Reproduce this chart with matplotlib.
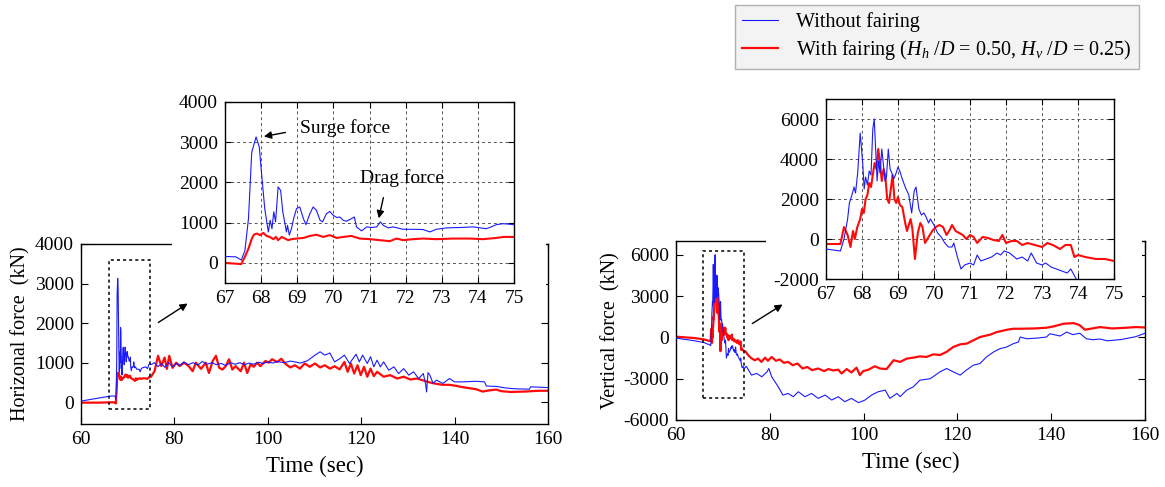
import matplotlib
matplotlib.use("Agg")
import matplotlib.pyplot as plt
from matplotlib.lines import Line2D
from matplotlib.patches import Rectangle, FancyArrowPatch

plt.rcParams["font.family"] = ["Liberation Serif", "DejaVu Serif"]
plt.rcParams["mathtext.fontset"] = "custom"
plt.rcParams["mathtext.rm"] = "Liberation Serif"
plt.rcParams["mathtext.it"] = "Liberation Serif:italic"
plt.rcParams["axes.unicode_minus"] = False

BLUE = "#1a1aff"
RED = "#ff0a0a"

# ---- horizontal force, without fairing (kN) ----
T_H_BLUE = [60, 62, 64, 66, 67.0, 67.3, 67.45,
            67.55, 67.65, 67.74, 67.86, 67.95, 68.0, 68.1, 68.2, 68.25, 68.3, 68.35, 68.4,
            68.47, 68.54, 68.6, 68.7, 68.73, 68.78, 68.84, 68.9, 68.98, 69.07, 69.17, 69.24,
            69.35, 69.44, 69.53, 69.63, 69.7, 69.81, 69.9, 70.0, 70.09, 70.18, 70.27, 70.36,
            70.5, 70.58, 70.64, 70.78, 70.92, 71.06, 71.2, 71.3, 71.38, 71.52, 71.65, 71.93,
            72.2, 72.48, 72.67, 72.85, 73.13, 73.5, 73.87, 74.23, 74.37, 74.51, 74.7, 75.0,
            75.7, 76.5, 77.2, 78.0, 78.8, 79.6, 80.4, 81.2, 82.0, 83.0, 84.0, 85.0, 86.0,
            87.0, 88.0, 89.0, 90.0, 91.0, 92.0, 93.0, 94.0, 95.0, 96.0, 97.0, 98.0, 99.0,
            100.0, 101.0, 102.0, 103.5, 104.8, 105.8, 107.0, 108.5, 110.1, 111.2, 112.2,
            113.3, 114.3, 115.4, 116.4, 117.5, 118.9, 119.6, 120.3, 121.3, 122.0, 122.7,
            123.4, 124.1, 124.8, 125.9, 127.0, 128.0, 129.1, 130.2, 131.2, 132.3, 133.3,
            133.8, 134.0, 134.3, 134.7, 135.4, 136.1, 137.5, 138.9, 140.0, 141.8, 144.6,
            146.4, 146.8, 148.9, 151, 153, 156, 156.3, 158, 160]
F_H_BLUE = [30, 70, 110, 150, 160, 150, 70,
            300, 1100, 2750, 3130, 2880, 2340, 1350, 770, 1060, 850, 1270, 1020,
            1890, 1800, 1270, 770, 935, 690, 850, 1100, 1350, 1390, 1100, 950,
            1225, 1390, 1310, 1060, 1020, 1225, 1280, 1180, 1130, 1140, 1060, 1035,
            1100, 1140, 895, 795, 895, 880, 895, 1020, 935, 870, 895, 835,
            835, 830, 770, 835, 870, 880, 895, 850, 895, 950, 975, 950,
            1000, 900, 980, 880, 1000, 900, 980, 930, 1020, 950, 1000, 940, 1030,
            960, 1000, 950, 980, 930, 1000, 960, 1000, 950, 990, 960, 1010, 980,
            1020, 990, 1030, 1000, 1040, 1020, 990, 1050, 1190, 1275, 1190,
            1245, 1020, 1100, 1190, 980, 1215, 1020, 1190, 980, 1150, 895,
            1065, 895, 1020, 810, 895, 725, 850, 685, 770, 600, 725,
            450, 260, 750, 685, 475, 560, 475, 600, 515, 515, 530,
            515, 410, 400, 360, 340, 330, 390, 380, 370]

# ---- horizontal force, with fairing (kN) ----
T_H_RED = [60, 64, 67.0, 67.3, 67.45,
           67.55, 67.65, 67.74, 67.8, 67.88, 67.97, 68.06, 68.15, 68.24, 68.34, 68.41,
           68.47, 68.57, 68.66, 68.75, 68.84, 68.98, 69.17, 69.35, 69.53, 69.72, 69.9,
           70.09, 70.27, 70.5, 70.73, 71.01, 71.28, 71.56, 71.75, 71.93, 72.2, 72.48,
           72.85, 73.31, 73.77, 74.14, 74.51, 74.7, 75.0,
           75.74, 76.5, 77.2, 77.9, 78.4, 78.9, 79.6, 80.4, 81.1, 82.1, 83.2, 83.9, 84.6,
           85.7, 86.7, 87.4, 88.2, 88.9, 89.6, 90.3, 91.0, 91.7, 92.4, 93.1, 94.2, 94.9,
           95.6, 96.3, 97.0, 97.7, 98.4, 99.5, 100.2, 100.9, 102.0, 102.9, 103.7, 104.8,
           105.8, 106.9, 107.9, 109.0, 110.1, 111.2, 112.2, 113.3, 114.3, 115.4, 116.4,
           117.1, 117.8, 118.5, 119.2, 119.9, 120.6, 121.3, 122.0, 122.7, 123.4, 124.8,
           126.2, 127.7, 129.1, 130.5, 131.9, 133.3, 134.7, 136.1, 137.5, 138.9, 140.3,
           141.8, 143.2, 144.6, 146.0, 147.4, 148.9, 150, 152, 155, 158, 160]
F_H_RED = [-10, -10, 0, -20, -30,
           150, 355, 600, 700, 730, 690, 745, 670, 645, 590, 645,
           565, 645, 605, 565, 590, 605, 620, 670, 700, 645, 690,
           620, 645, 670, 605, 590, 565, 540, 605, 565, 590, 605,
           590, 605, 605, 590, 620, 645, 645,
           783, 1174, 913, 1130, 843, 1174, 870, 1000, 913, 1000, 896, 783, 1000,
           843, 1000, 739, 1043, 1174, 870, 826, 913, 1087, 826, 913, 783, 1000,
           739, 957, 896, 1000, 913, 1043, 1000, 1087, 1017, 1100, 980, 880,
           935, 850, 980, 895, 980, 880, 935, 850, 910, 830, 1020,
           770, 980, 725, 935, 685, 895, 645, 850, 660, 770, 645,
           685, 600, 645, 575, 600, 550, 500, 465, 440, 440, 415,
           380, 355, 330, 270, 300, 320, 280, 260, 270, 290, 290]

# ---- vertical force, without fairing (kN) ----
T_V_BLUE = [60, 62, 64, 66, 66.8, 67.0, 67.2, 67.4,
            67.5, 67.6, 67.65, 67.72, 67.78, 67.82, 67.88, 67.95, 68.02, 68.06, 68.1, 68.15,
            68.2, 68.25, 68.3, 68.34, 68.38, 68.42, 68.46, 68.5, 68.55, 68.6, 68.64, 68.68,
            68.73, 68.78, 68.83, 68.88, 68.93, 69.0, 69.05, 69.1, 69.2, 69.3, 69.38, 69.45,
            69.5, 69.58, 69.65, 69.72, 69.78, 69.85, 69.9, 70.0, 70.1, 70.2, 70.3, 70.4,
            70.5, 70.55, 70.65, 70.75, 70.85, 71.0, 71.1, 71.2, 71.3, 71.45, 71.6, 71.75,
            71.85, 71.95, 72.1, 72.3, 72.45, 72.6, 72.7, 72.85, 73.0, 73.1, 73.25, 73.4,
            73.55, 73.7, 73.8, 73.95, 74.1, 74.3, 74.5, 74.7, 75.0,
            76.1, 77.2, 78.3, 79.4, 79.8, 80.4, 81.8, 82.8, 83.9, 85.0, 86.1, 87.5, 88.9,
            90.3, 91.8, 93.2, 94.6, 96.0, 97.4, 98.9, 100.3, 101.7, 103.1, 104.6, 105.6,
            107.1, 107.8, 109.2, 110.6, 112.0, 114.2, 116.3, 117.7, 119.1, 120.6, 121.9,
            123.4, 124.8, 126.2, 127.7, 129.1, 130.5, 131.9, 133.0, 133.4, 134.8, 137.0,
            139.0, 139.7, 141.9, 143.3, 144.6, 146.1, 147.5, 148.9, 150.4, 152, 155, 158, 160]
F_V_BLUE = [-50, -150, -250, -380, -500, -500, -550, -600,
            0, 1000, 1800, 2200, 2600, 2300, 3300, 5300, 3800, 2500, 3100, 2700,
            3400, 3200, 5500, 6000, 4500, 2900, 3900, 3300, 4500, 3600, 2900, 3100,
            4500, 3500, 3300, 3000, 3200, 3600, 3400, 3100, 2600, 2200, 1300, 2400,
            2600, 1500, 1200, 1300, 1100, 800, 1000, 700, 300, 100, -200, -400,
            -400, -200, -900, -1500, -1300, -1200, -1300, -800, -1100, -1000, -900, -700,
            -800, -600, -700, -1000, -900, -1100, -700, -1200, -1300, -1200, -1400, -1500,
            -1600, -1700, -1500, -2000, -2200, -2100, -2300, -2200, -2100,
            -2740, -2620, -2860, -2500, -2260, -2860, -3590, -4190, -4070, -4310, -3950, -4310, -4070,
            -4430, -4190, -4550, -4310, -4670, -4430, -4740, -4550, -4190, -3950, -3830, -4430,
            -4070, -4300, -3830, -3590, -3110, -3000, -2500, -2260, -2500, -2740, -2380,
            -2020, -1900, -1420, -1060, -820, -700, -460, -340, 24, -100, -50,
            24, 265, 100, 386, 200, 300, -100, -170, -120, -250, -150, 50, 300]

# ---- vertical force, with fairing (kN) ----
T_V_RED = [60, 62, 64, 66, 67.0, 67.4,
           67.5, 67.6, 67.68, 67.75, 67.8, 67.87, 67.95, 68.0, 68.05, 68.1, 68.15, 68.2,
           68.25, 68.3, 68.35, 68.4, 68.45, 68.5, 68.55, 68.6, 68.65, 68.7, 68.75, 68.8,
           68.85, 68.9, 68.95, 69.0, 69.05, 69.12, 69.2, 69.25, 69.35, 69.4, 69.47, 69.55,
           69.62, 69.68, 69.75, 69.85, 69.95, 70.05, 70.15, 70.25, 70.35, 70.45, 70.5,
           70.6, 70.7, 70.8, 70.9, 71.0, 71.1, 71.2, 71.35, 71.5, 71.65, 71.8, 71.9, 72.0,
           72.15, 72.3, 72.45, 72.6, 72.8, 73.0, 73.15, 73.3, 73.5, 73.65, 73.8, 73.9,
           74.0, 74.2, 74.5, 74.75, 75.0,
           75.4, 76.0, 76.8, 77.5, 78.2, 79.0, 79.6, 80.4, 81.3, 82.1, 83.0, 83.9, 84.9,
           85.9, 87.0, 88.0, 89.0, 90.3, 91.6, 92.5, 93.5, 94.6, 95.3, 96.4, 97.4, 98.5,
           99.2, 99.9, 101.0, 102.4, 103.5, 104.9, 106.4, 107.8, 109.2, 110.6, 112.0,
           113.4, 114.9, 116.3, 117.7, 119.1, 120.6, 122.0, 124.8, 127.0, 128.4, 130.5,
           131.9, 133.4, 136.5, 139.0, 140.5, 142.6, 144.8, 146.0, 147.2, 148.3, 150.4,
           153, 156, 158, 160]
F_V_RED = [50, 0, -50, -150, -250, -250,
           600, 200, -400, 400, 0, 600, 1000, 1500, 1300, 2000, 2200, 2800,
           2600, 3200, 3800, 3500, 4500, 3800, 2900, 3500, 3100, 2000, 1800, 2500,
           3200, 2000, 1800, 2100, 1700, 1600, 800, 400, 1000, 500, -1000, 300,
           800, 600, -200, 100, 400, 600, 700, 600, 200, 500, 700,
           400, 300, 200, 0, 200, 100, -200, 100, 50, -50, -100, 200, -200,
           -100, -100, -300, -200, -300, -400, -200, -300, -500, -300, -300, -900,
           -800, -900, -1000, -1000, -1100,
           -1300, -1500, -1660, -1540, -1780, -1470, -1700, -1420, -1700, -1600, -1850, -1780, -2020,
           -1900, -2260, -2150, -2380, -2260, -2450, -2300, -2400, -2350, -2620, -2300, -2550, -2200,
           -2740, -2450, -2350, -2100, -2260, -2300, -1660, -1780, -1540, -1470, -1380,
           -1420, -1230, -1280, -1050, -700, -506, -450, 24, 200, 386, 550,
           627, 627, 650, 700, 796, 990, 1036, 900, 555, 620, 748,
           650, 700, 750, 720]

W, H = 1165, 487


def fx(px):
    return px / W


def fy(py):
    return 1 - py / H


def style_axes(ax, size=14):
    ax.tick_params(direction="in", top=True, right=True, length=5, width=0.8,
                   labelsize=size, pad=5)
    for sp in ax.spines.values():
        sp.set_linewidth(1.0)


fig = plt.figure(figsize=(W / 100, H / 100), dpi=100)

ax_h = fig.add_axes([fx(81), fy(424), (548 - 81) / W, (424 - 244) / H])
ax_v = fig.add_axes([fx(676), fy(420), (1145 - 676) / W, (420 - 241) / H])
in_h = fig.add_axes([fx(225), fy(283), (514 - 225) / W, (283 - 102) / H], zorder=3)
in_v = fig.add_axes([fx(826), fy(279), (1114 - 826) / W, (279 - 99) / H], zorder=3)

# white cards behind the insets hide the top of the main frames
for x0, x1 in [(172, 546), (766, 1142)]:
    fig.add_artist(Rectangle((fx(x0), fy(306)), (x1 - x0) / W, (306 - 88) / H,
                             transform=fig.transFigure, fc="white", ec="none", zorder=2))

# main panels
for ax, tb, fb, tr, fr in [(ax_h, T_H_BLUE, F_H_BLUE, T_H_RED, F_H_RED),
                           (ax_v, T_V_BLUE, F_V_BLUE, T_V_RED, F_V_RED)]:
    ax.plot(tr, fr, color=RED, lw=1.6, zorder=2)
    ax.plot(tb, fb, color=BLUE, lw=0.8, zorder=3)
    ax.set_xlim(60, 160)
    ax.set_xticks([60, 80, 100, 120, 140, 160])
    ax.set_xlabel("Time (sec)", fontsize=16.5, labelpad=6)
    style_axes(ax)

ax_h.set_ylim(-550, 4000)
ax_h.set_yticks([0, 1000, 2000, 3000, 4000])
ax_h.set_ylabel("Horizonal force  (kN)", fontsize=14.5, labelpad=3)
ax_h.add_patch(Rectangle((66, -180), 8.8, 3780, fill=False, ec="black", lw=1.1,
                         ls=(0, (2, 2)), zorder=4))

ax_v.set_ylim(-6000, 7000)
ax_v.set_yticks([-6000, -3000, 0, 3000, 6000])
ax_v.set_ylabel("Vertical force  (kN)", fontsize=14.5, labelpad=2)
ax_v.add_patch(Rectangle((65.8, -4430), 8.7, 10720, fill=False, ec="black", lw=1.1,
                         ls=(0, (2, 2)), zorder=4))

# insets
for ax, tb, fb, tr, fr in [(in_h, T_H_BLUE, F_H_BLUE, T_H_RED, F_H_RED),
                           (in_v, T_V_BLUE, F_V_BLUE, T_V_RED, F_V_RED)]:
    ax.plot(tb, fb, color=BLUE, lw=0.8, zorder=3)
    ax.plot(tr, fr, color=RED, lw=1.5, zorder=2)
    ax.set_xlim(67, 75)
    ax.set_xticks(range(67, 76))
    ax.grid(True, ls=(0, (3, 3)), color="#555555", lw=0.7)
    style_axes(ax)
    ax.tick_params(length=4)

in_h.set_ylim(-500, 4000)
in_h.set_yticks([0, 1000, 2000, 3000, 4000])
in_v.set_ylim(-2000, 7000)
in_v.set_yticks([-2000, 0, 2000, 4000, 6000])

arrow_kw = dict(arrowstyle="-|>", mutation_scale=11, color="black", lw=1.0)
in_h.annotate("", xy=(68.0, 3130), xytext=(68.75, 3255), arrowprops=arrow_kw)
in_h.text(69.08, 3350, "Surge force", fontsize=14, va="center", ha="left")
in_h.annotate("", xy=(71.24, 1040), xytext=(71.4, 1690), arrowprops=arrow_kw)
in_h.text(70.74, 2110, "Drag force", fontsize=14, va="center", ha="left")

# arrows from the dashed boxes toward the insets
for (x0, y0), (x1, y1) in [((156, 324), (190, 302)), ((750, 325), (785, 303))]:
    fig.add_artist(FancyArrowPatch((fx(x0), fy(y0)), (fx(x1), fy(y1)),
                                   transform=fig.transFigure, zorder=5, **arrow_kw))

handles = [Line2D([], [], color=BLUE, lw=0.8, label="Without fairing"),
           Line2D([], [], color=RED, lw=1.6,
                  label="With fairing ($H_h$ /$D$ = 0.50, $H_v$ /$D$ = 0.25)")]
leg = fig.legend(handles=handles, loc="upper left", bbox_to_anchor=(fx(735), fy(5)),
                 frameon=True, fancybox=False, fontsize=14.5, handlelength=1.8,
                 borderpad=0.35, labelspacing=0.3, handletextpad=0.9, borderaxespad=0)
leg.get_frame().set_facecolor("#f0f0f0")
leg.get_frame().set_edgecolor("#a0a0a0")
leg.get_frame().set_linewidth(1.0)

fig.savefig("out.png", dpi=100)
